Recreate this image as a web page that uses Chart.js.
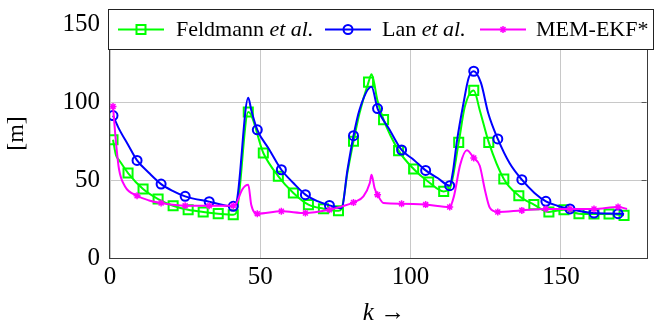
<!DOCTYPE html>
<html><head><meta charset="utf-8">
<script src="https://cdn.jsdelivr.net/npm/chart.js@4.4.0/dist/chart.umd.min.js"></script>
<style>html,body{margin:0;padding:0;background:#fff}#wrap{width:655px;height:325px}</style>
</head><body><div id="wrap"><canvas id="c" width="655" height="325"></canvas></div>
<script>
// ---- data ----
const feldmannK = [1,2,3,6,11,16,21,26,31,36,41,42,46,51,56,61,66,71,76,77,79,81,83,86,87,89,91,96,101,106,111,113,116,118,121,123,126,131,136,141,146,151,156,161,166,171];
const feldmannV = [76,66,63,54.6,44.3,37.9,33.6,31,29.6,28.5,27.8,29,93.8,67.5,52.5,41.8,34.3,31.7,30.4,31.5,55,75,93,113,118,101,88.9,69,57.2,48.8,42.8,44.5,74.3,97,107.7,95,74.3,50.8,40,34.3,29.6,31,28.5,28.3,28.3,27.4];

const lanK = [1,3,6,9,13,17,21,25,33,41,42,46,47,49,53,57,61,65,69,73,77,79,81,83,87,89,93,97,101,105,109,113,114,115.4,117.6,119.3,121,123.4,125.8,129,132.9,137,141.2,145,148.8,153,161,169,171];
const lanV = [91.5,83,72.8,62.7,54.6,47.5,43,39.6,36.2,33.2,35,103,95,82.4,69.6,56.7,48.2,40.7,36.5,33.8,32,56.7,78.6,95.3,110,96,82.4,69.4,63.2,56.3,51.4,46.5,54.6,75,99.6,115.7,120,112.5,93.2,76.5,61,50.3,41.8,36.4,33.6,31.5,28.9,28.5,28.3];

const memK = [1,2,3,5,9,13,17,25,33,41,42,44,46,47,49,57,65,73,77,81,84.3,86.4,87,88,89,91,97,105,113,114.4,116.5,118.7,121,123,124.7,126.4,129,137,145,153,161,169,172];
const memV = [97.4,74,57,46,40,37,35.3,33.6,33.6,33.6,35,44,47,34,28.5,30,28.9,31,33,35.7,39.6,48,53.5,45,40.7,35.3,34.9,34.3,32.8,39.6,60,69.2,64.3,59.3,43.9,32.1,29.6,30.6,31.5,31.5,31.5,32.8,31.5];

const xTickValues = [0,50,100,150];
const yTickValues = [0,50,100,150];
const seriesLabels = ['Feldmann et al.', 'Lan et al.', 'MEM-EKF*'];
const legendParts = [[['Feldmann ',false],['et al.',true]], [['Lan ',false],['et al.',true]], [['MEM-EKF*',false]]];
const xTitle = ['k', ' \u2192'];
const yTitle = '[m]';

// ---- styles ----
const colors = ['#00ff00','#0000ff','#ff00ff'];
const serif = "'Liberation Serif', 'Times New Roman', serif";

function pts(ks, vs){ return ks.map((k,i)=>({x:k, y:vs[i]})); }
function every(n, r){ return c => { const k = c.raw && c.raw.x; return (Number.isInteger(k) && (k-1)%n===0) ? r : 0; }; }

function drawMarker(ctx, style, x, y, color){
  ctx.save();
  ctx.strokeStyle = color; ctx.lineWidth = style==='star'?1.5:2;
  ctx.beginPath();
  if (style==='rect'){ ctx.rect(x-4.5,y-4.5,9,9); }
  else if (style==='circle'){ ctx.arc(x,y,4.5,0,Math.PI*2); }
  else { const r=3.5; for (let a=0;a<8;a++){ const t=a*Math.PI/4; ctx.moveTo(x,y); ctx.lineTo(x+r*Math.cos(t), y+r*Math.sin(t)); } }
  ctx.stroke(); ctx.restore();
}

const framePlugin = {
  id: 'frameLegend',
  afterDraw(chart){
    const {ctx, chartArea:a} = chart;
    ctx.save();
    // axis frame
    ctx.strokeStyle = '#3a3a3a'; ctx.lineWidth = 1;
    ctx.strokeRect(Math.floor(a.left)-0.5, Math.floor(a.top)+0.5, Math.round(a.right-a.left)+1, Math.round(a.bottom-a.top));
    // inner tick marks on right side
    const ys = chart.scales.y;
    ctx.strokeStyle = '#555';
    yTickValues.forEach(v => { if (v===0) return; const py = Math.round(ys.getPixelForValue(v))+0.5; ctx.beginPath(); ctx.moveTo(a.right-5, py); ctx.lineTo(a.right, py); ctx.stroke(); });
    // legend box
    const bx = 108.5, by = 9.5, bw = 545, bh = 40;
    ctx.fillStyle = '#fff'; ctx.fillRect(bx, by, bw, bh);
    ctx.strokeStyle = '#222'; ctx.lineWidth = 1; ctx.strokeRect(bx, by, bw, bh);
    const cy = 29.5;
    const samples = [[118,164],[325,371],[480,526]];
    const textX = [176, 382, 536];
    const styles = ['rect','circle','star'];
    for (let i=0;i<3;i++){
      ctx.strokeStyle = colors[i]; ctx.lineWidth = 2;
      ctx.beginPath(); ctx.moveTo(samples[i][0], cy); ctx.lineTo(samples[i][1], cy); ctx.stroke();
      drawMarker(ctx, styles[i], (samples[i][0]+samples[i][1])/2, cy, colors[i]);
      let x = textX[i];
      ctx.fillStyle = '#000'; ctx.textBaseline = 'middle'; ctx.textAlign = 'left';
      legendParts[i].forEach(([t,it]) => { ctx.font = (it?'italic ':'') + '22px ' + serif; ctx.fillText(t, x, cy+1); x += ctx.measureText(t).width; });
    }
    // x axis title
    ctx.font = 'italic 25px ' + serif; const w1 = ctx.measureText(xTitle[0]).width;
    ctx.font = '25px ' + serif; const w2 = ctx.measureText(xTitle[1]).width;
    let tx = 384 - (w1+w2)/2;
    ctx.fillStyle = '#000'; ctx.textBaseline = 'middle';
    ctx.font = 'italic 25px ' + serif; ctx.fillText(xTitle[0], tx, 313);
    ctx.font = '25px ' + serif; ctx.fillText(xTitle[1], tx + w1, 313);
    ctx.restore();
  }
};

new Chart(document.getElementById('c'), {
  type: 'line',
  data: {
    datasets: [
      { label: seriesLabels[0], data: pts(feldmannK, feldmannV), borderColor: colors[0], backgroundColor: 'rgba(0,0,0,0)', borderWidth: 2,
        pointStyle: 'rect', pointRadius: every(5, 6.4), pointBorderColor: colors[0], pointBackgroundColor: 'rgba(0,0,0,0)', pointBorderWidth: 2,
        cubicInterpolationMode: 'monotone', order: 3 },
      { label: seriesLabels[1], data: pts(lanK, lanV), borderColor: colors[1], backgroundColor: 'rgba(0,0,0,0)', borderWidth: 2,
        pointStyle: 'circle', pointRadius: every(8, 4.5), pointBorderColor: colors[1], pointBackgroundColor: 'rgba(0,0,0,0)', pointBorderWidth: 2,
        cubicInterpolationMode: 'monotone', order: 2 },
      { label: seriesLabels[2], data: pts(memK, memV), borderColor: colors[2], backgroundColor: 'rgba(0,0,0,0)', borderWidth: 2,
        pointStyle: 'star', pointRadius: every(8, 3.5), pointBorderColor: colors[2], pointBackgroundColor: colors[2], pointBorderWidth: 1.5,
        cubicInterpolationMode: 'monotone', order: 1 }
    ]
  },
  options: {
    responsive: false, animation: false,
    layout: { padding: { top: 9, right: 2, left: 0, bottom: 0 } },
    plugins: { legend: { display: false }, tooltip: { enabled: false } },
    scales: {
      x: {
        type: 'linear', min: 0, max: 178.5,
        afterFit(s){ s.height = 67; s.paddingLeft = 0; s.paddingRight = 0; },
        afterBuildTicks(s){ s.ticks = xTickValues.map(v=>({value:v})); },
        ticks: { font: { family: serif, size: 25 }, color: '#000', padding: 4, maxRotation: 0, autoSkip: false },
        grid: { color: '#c8c8c8', lineWidth: 1, drawTicks: false },
        border: { display: false }
      },
      y: {
        type: 'linear', min: 0, max: 160,
        afterFit(s){ s.width = 110; s.paddingTop = 0; s.paddingBottom = 0; },
        afterBuildTicks(s){ s.ticks = yTickValues.map(v=>({value:v})); },
        ticks: { font: { family: serif, size: 25 }, color: '#000', padding: 10, autoSkip: false },
        grid: { color: '#c8c8c8', lineWidth: 1, drawTicks: false },
        border: { display: false },
        title: { display: true, text: yTitle, color: '#000', font: { family: serif, size: 24, lineHeight: 1 }, padding: { top: 5, bottom: 0 } }
      }
    }
  },
  plugins: [framePlugin]
});
</script>
</body></html>
